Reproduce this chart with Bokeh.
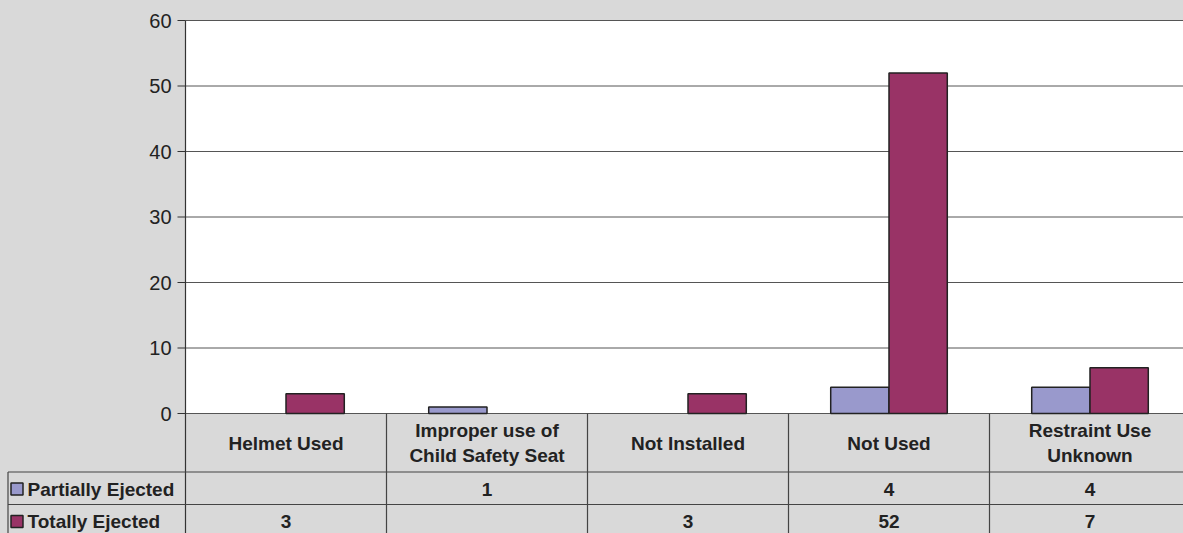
import numpy as np
from bokeh.plotting import figure
from bokeh.models import Range1d, ColumnDataSource
from bokeh.embed import file_html
from bokeh.resources import INLINE
from bokeh.core.properties import value

# ---------------- data ----------------
categories = ["Helmet Used", "Improper use of\nChild Safety Seat", "Not Installed",
              "Not Used", "Restraint Use\nUnknown"]
series_names = ["Partially Ejected", "Totally Ejected"]
partially = [None, 1, None, 4, 4]
totally = [3, None, 3, 52, 7]
y_ticks = [0, 10, 20, 30, 40, 50, 60]
series_colors = ["#9999cc", "#993366"]

# ---------------- layout constants ----------------
BG = "#d9d9d9"
FONT = "Liberation Sans"
TXT = "#222222"
LINE = "#444444"
W, H = 1183, 533
X0, X_PER = 185.0, 201.0          # page x of category axis origin, px per category
Y0, Y_PER = 413.0, 393.0 / 60.0   # page y of value 0, px per value unit
n = len(categories)
BAR_W = 0.29
y_max = y_ticks[-1]


def dx(page_x):
    return (page_x - X0) / X_PER


def dy(page_y):
    return (Y0 - page_y) / Y_PER


def nanify(vals):
    return [np.nan if v is None else v for v in vals]


centers = np.arange(n) + 0.5

p = figure(width=W, height=H, x_range=Range1d(dx(0), dx(W)), y_range=Range1d(dy(H), dy(0)),
           output_backend="svg", toolbar_location=None, x_axis_location=None, y_axis_location=None,
           min_border_left=0, min_border_right=0, min_border_top=0, min_border_bottom=0)
p.background_fill_color = BG
p.border_fill_color = BG
p.outline_line_color = None
p.xgrid.visible = False
p.ygrid.visible = False

# plot area
p.quad(left=[0], right=[n], bottom=[0], top=[y_max], fill_color="white", line_color=None)

# value gridlines
p.segment(x0=[0] * len(y_ticks), y0=y_ticks, x1=[n] * len(y_ticks), y1=y_ticks,
          line_color="#555555", line_width=1)

# value axis: line, ticks, labels
p.segment(x0=[0], y0=[y_max], x1=[0], y1=[dy(H + 10)], line_color="#333333", line_width=1.2)
p.segment(x0=[dx(177)] * len(y_ticks), y0=y_ticks, x1=[0] * len(y_ticks), y1=y_ticks,
          line_color="#333333", line_width=1.2)
p.text(x=[dx(171)] * len(y_ticks), y=y_ticks, text=[str(t) for t in y_ticks],
       text_align="right", text_baseline="middle", text_font=value(FONT),
       text_font_size="20px", text_color=TXT)

# bars
src1 = ColumnDataSource(dict(x=centers - BAR_W / 2, top=nanify(partially)))
src2 = ColumnDataSource(dict(x=centers + BAR_W / 2, top=nanify(totally)))
p.vbar(x="x", top="top", bottom=0, width=BAR_W, source=src1,
       fill_color=series_colors[0], line_color="#222222", line_width=1.5)
p.vbar(x="x", top="top", bottom=0, width=BAR_W, source=src2,
       fill_color=series_colors[1], line_color="#222222", line_width=1.5)

# ---------------- data table ----------------
HEAD_B = dy(471.5)
ROW1_B = dy(504)
ROW_Y = [dy(488.5), dy(521)]
BOTTOM = dy(H + 10)
LBL_L = dx(7.5)

p.segment(x0=list(range(1, n + 1)), y0=[0] * n, x1=list(range(1, n + 1)), y1=[BOTTOM] * n,
          line_color=LINE, line_width=1.2)
p.segment(x0=[LBL_L], y0=[HEAD_B], x1=[LBL_L], y1=[BOTTOM], line_color=LINE, line_width=1.2)
p.segment(x0=[LBL_L, LBL_L], y0=[HEAD_B, ROW1_B], x1=[n, n], y1=[HEAD_B, ROW1_B],
          line_color=LINE, line_width=1.2)

p.text(x=list(centers), y=[dy(442.5)] * n, text=categories, text_align="center",
       text_baseline="middle", text_font=value(FONT), text_font_size="19px",
       text_font_style="bold", text_color=TXT, text_line_height=1.2)

for r, (name, vals, col) in enumerate(zip(series_names, [partially, totally], series_colors)):
    labels = ["" if v is None else str(v) for v in vals]
    p.text(x=list(centers), y=[ROW_Y[r]] * n, text=labels, text_align="center",
           text_baseline="middle", text_font=value(FONT), text_font_size="19px",
           text_font_style="bold", text_color=TXT)
    p.scatter(x=[dx(16.5)], y=[ROW_Y[r]], marker="square", size=12,
              fill_color=col, line_color="#222222", line_width=1.5)
    p.text(x=[dx(27)], y=[ROW_Y[r]], text=[name], text_align="left",
           text_baseline="middle", text_font=value(FONT), text_font_size="19px",
           text_font_style="bold", text_color=TXT)

html = file_html(p, INLINE)
html = html.replace("</head>",
                    "<style>html, body { background: %s; margin: 0; padding: 0; }</style></head>" % BG, 1)
open("out.html", "w").write(html)
